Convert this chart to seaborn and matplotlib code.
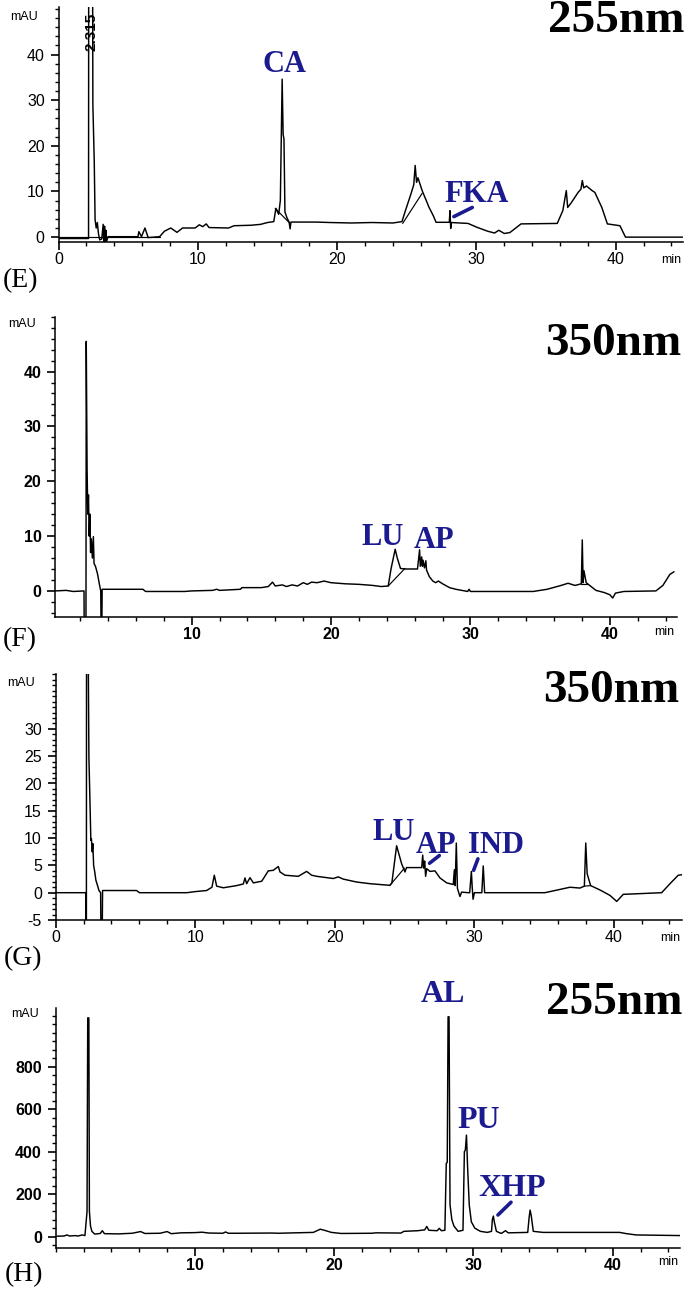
import matplotlib
matplotlib.use("Agg")
import matplotlib.pyplot as plt
from matplotlib.ticker import MultipleLocator, FixedLocator
import seaborn as sns

# ------------------------------------------------------------------ data
# (E) 255 nm chromatogram: (retention time [min], absorbance [mAU])
E_trace = [(0.0, -0.3), (2.15, -0.3), (2.16, 60), (2.44, 60), (2.46, 29), (2.56, 16.5),
           (2.62, 3.8), (2.7, 2.0), (2.78, 3.2), (2.86, 0.8), (2.95, -0.6), (3.1, -0.4),
           (3.2, 2.8), (3.25, -0.9), (3.3, 2.4), (3.35, -1.0), (3.4, 1.5), (3.45, -0.9),
           (3.55, 0.1), (5.7, 0.1), (5.76, 1.2), (5.95, 0.1), (6.2, 2.0), (6.43, -0.1),
           (7.25, 0.1), (7.6, 1.3), (8.05, 2.0), (8.5, 1.05), (8.9, 2.0), (9.8, 2.0),
           (10.1, 2.7), (10.35, 2.3), (10.6, 2.9), (10.8, 2.1), (12.2, 2.0), (12.6, 2.5),
           (13.8, 2.6), (14.5, 2.8), (15.0, 3.2), (15.45, 3.4), (15.6, 6.3), (15.8, 5.0),
           (15.92, 8.0), (16.05, 34.6), (16.12, 22.5), (16.18, 21.5), (16.25, 5.5),
           (16.4, 4.2), (16.55, 3.3), (16.62, 1.8), (16.68, 3.3), (18.5, 3.3), (19.5, 3.2),
           (21.0, 3.1), (22.5, 3.2), (24.0, 3.1), (24.65, 3.4), (24.9, 5.8), (25.3, 9.5),
           (25.5, 11.5), (25.6, 15.7), (25.7, 12.0), (25.8, 13.0), (26.1, 10.2), (26.6, 6.5),
           (26.9, 4.7), (27.1, 3.25), (28.05, 3.25), (28.1, 5.8), (28.15, 1.9), (28.2, 3.2),
           (29.4, 3.0), (30.0, 2.2), (30.8, 1.3), (31.3, 0.9), (31.6, 1.5), (32.0, 0.8),
           (32.4, 1.0), (33.2, 2.9), (35.8, 3.0), (36.2, 5.8), (36.45, 10.2), (36.55, 6.5),
           (36.8, 7.5), (37.3, 9.8), (37.5, 10.5), (37.6, 12.4), (37.7, 10.8), (37.9, 11.2),
           (38.3, 10.2), (38.5, 9.8), (39.0, 6.5), (39.4, 2.9), (40.3, 2.5), (40.7, 0.0),
           (44.8, 0.0)]
E_baselines = [[(0.0, 0.1), (7.25, 0.1)],
               [(15.55, 6.3), (16.55, 3.2)],
               [(24.7, 3.0), (26.1, 9.6)]]

# (F) 350 nm chromatogram
F_trace = [(0.22, 0.0), (1.0, 0.1), (1.5, -0.1), (2.28, 0.0), (2.29, -6), (2.42, -6),
           (2.44, 45.5), (2.5, 22.3), (2.55, 14), (2.6, 17.5), (2.65, 10), (2.7, 14),
           (2.75, 7), (2.8, 9.5), (2.88, 6), (2.95, 9.9), (3.0, 5), (3.1, 4.5), (3.24, 3.2),
           (3.4, 1.0), (3.48, 0.0), (3.5, -6), (3.56, -6), (3.58, 0.3), (6.5, 0.3),
           (6.7, -0.1), (9.5, -0.1), (10.0, 0.0), (11.5, 0.1), (11.8, 0.3), (12.0, 0.1),
           (13.5, 0.3), (13.6, 0.6), (15.0, 0.6), (15.5, 0.8), (15.8, 1.6), (16.0, 0.9),
           (16.5, 1.1), (16.8, 0.8), (17.2, 1.1), (17.6, 0.9), (18.0, 1.5), (18.3, 1.2),
           (18.6, 1.6), (19.0, 1.5), (19.5, 1.8), (20.0, 1.5), (21.0, 1.3), (22.0, 1.2),
           (23.0, 1.0), (23.6, 0.8), (24.1, 0.9), (24.3, 4.0), (24.6, 7.6), (24.75, 6.0),
           (24.98, 4.1), (25.3, 4.0), (26.2, 4.0), (26.35, 7.5), (26.4, 4.5), (26.5, 6.2),
           (26.55, 4.5), (26.6, 5.6), (26.7, 4.2), (26.8, 5.5), (26.85, 3.8), (27.05, 2.6),
           (27.3, 1.8), (27.5, 1.5), (27.7, 1.8), (28.0, 1.3), (28.5, 0.6), (28.95, 0.3),
           (29.8, -0.1), (29.9, 0.3), (30.0, -0.1), (34.5, -0.1), (35.5, 0.3), (36.5, 1.0),
           (37.0, 1.4), (37.5, 1.0), (37.95, 1.3), (38.02, 9.3), (38.08, 1.5), (38.14, 3.7),
           (38.3, 1.5), (38.6, 0.9), (39.0, 0.1), (39.6, -0.3), (40.0, -0.7), (40.2, -1.3),
           (40.4, -0.4), (41.0, -0.1), (43.3, 0.0), (43.8, 1.0), (44.3, 3.0), (44.6, 3.5)]
F_baselines = [[(24.1, 0.9), (25.3, 4.1)],
               [(37.95, 1.3), (38.35, 1.3)]]

# (G) 350 nm chromatogram
G_trace = [(0.0, 0.0), (2.15, 0.0), (2.16, -6), (2.2, -6), (2.21, 45), (2.33, 45),
           (2.38, 24.8), (2.45, 17.4), (2.52, 9.6), (2.56, 9.9), (2.62, 7.5), (2.66, 9.0),
           (2.72, 5.0), (2.8, 3.8), (2.88, 2.3), (3.0, 1.3), (3.1, 0.4), (3.22, 0.0),
           (3.24, -6), (3.34, -6), (3.36, 0.4), (5.8, 0.4), (6.0, 0.0), (9.4, 0.0),
           (10.0, 0.2), (10.82, 0.4), (11.2, 1.0), (11.37, 3.2), (11.54, 1.2), (12.02, 0.9),
           (12.97, 1.3), (13.45, 1.6), (13.57, 2.7), (13.69, 1.65), (13.93, 2.75),
           (14.17, 1.8), (14.77, 2.1), (15.24, 4.0), (15.6, 4.1), (15.96, 4.8), (16.08, 3.8),
           (16.44, 3.2), (17.39, 3.0), (17.99, 3.9), (18.35, 3.2), (18.71, 3.0), (19.9, 2.6),
           (20.26, 2.9), (20.6, 2.5), (21.58, 1.95), (22.53, 1.65), (23.96, 1.35),
           (24.1, 1.8), (24.44, 8.6), (24.8, 5.3), (25.04, 3.8), (25.15, 4.6), (26.24, 4.6),
           (26.31, 6.9), (26.38, 4.5), (26.45, 5.8), (26.52, 3.0), (26.6, 4.4), (26.83, 3.9),
           (27.19, 4.0), (27.55, 2.7), (28.03, 1.8), (28.5, 1.5), (28.58, 4.2), (28.64, 1.3),
           (28.72, 9.1), (28.8, 0.8), (28.98, -0.7), (29.1, 0.1), (29.6, 0.0), (29.68, 0.0),
           (29.8, 3.9), (29.86, 1.0), (29.92, -1.2), (30.02, 0.0), (30.55, 0.0), (30.65, 4.9),
           (30.75, 0.0), (35.07, 0.0), (36.87, 1.0), (37.58, 0.85), (37.9, 1.2), (38.0, 9.1),
           (38.1, 3.5), (38.2, 2.6), (38.35, 1.3), (39.02, 0.5), (39.74, -0.5), (40.22, -1.6),
           (40.69, -0.3), (43.44, 0.0), (44.04, 1.65), (44.63, 3.2), (44.9, 3.3)]
G_baselines = [[(23.96, 1.35), (25.0, 4.5)],
               [(37.9, 1.2), (38.35, 1.3)]]

# (H) 255 nm chromatogram
H_trace = [(0.0, 2), (0.6, 3), (0.8, 8), (1.0, 3), (1.4, 5), (1.6, 3), (1.9, 8), (2.1, 5),
           (2.25, 118), (2.3, 1030), (2.38, 1030), (2.42, 120), (2.5, 50), (2.6, 25),
           (2.8, 12), (3.2, 15), (3.35, 28), (3.5, 14), (4.5, 13), (5.5, 16), (6.1, 24),
           (6.4, 15), (7.5, 16), (8.0, 24), (8.3, 14), (9.0, 18), (10.0, 19), (10.5, 21),
           (11.0, 17), (12.0, 16), (12.2, 22), (12.4, 16), (13.0, 16), (15.5, 17), (16.0, 16),
           (17.2, 18), (18.5, 20), (19.0, 35), (19.3, 30), (19.8, 20), (20.5, 15), (22.7, 16),
           (23.0, 18), (24.8, 17), (25.0, 25), (26.0, 28), (26.5, 32), (26.65, 48), (26.8, 30),
           (27.4, 28), (27.55, 39), (27.7, 28), (27.95, 30), (28.05, 345), (28.12, 350),
           (28.18, 1035), (28.25, 1035), (28.32, 150), (28.45, 80), (28.6, 50), (28.9, 25),
           (29.25, 30), (29.35, 400), (29.42, 408), (29.5, 478), (29.58, 330), (29.7, 150),
           (29.85, 70), (30.1, 40), (30.5, 25), (31.0, 20), (31.3, 25), (31.36, 80),
           (31.43, 97), (31.5, 70), (31.65, 25), (32.0, 15), (32.3, 28), (32.5, 18),
           (33.9, 20), (34.0, 90), (34.07, 125), (34.15, 100), (34.3, 25), (35.0, 20),
           (40.5, 20), (41.0, 14), (41.7, 8), (45.0, 5)]

# compound labels: (text, retention time, mAU)
E_labels = [("CA", 16.2, 37.8), ("FKA", 30.0, 9.4)]
F_labels = [("LU", 23.7, 9.7), ("AP", 27.4, 9.25)]
G_labels = [("LU", 24.2, 11.0), ("AP", 27.3, 8.7), ("IND", 31.6, 8.7)]
H_labels = [("AL", 27.8, 1142), ("PU", 30.4, 549), ("XHP", 32.75, 229)]

# pointer strokes from label to peak
E_pointers = [[(28.38, 4.5), (29.7, 6.5)]]
F_pointers = []
G_pointers = [[(26.8, 5.4), (27.5, 6.8)], [(29.96, 4.1), (30.27, 6.2)]]
H_pointers = [[(31.76, 102), (32.7, 162)]]

panel_letters = ["(E)", "(F)", "(G)", "(H)"]
wavelengths = ["255nm", "350nm", "350nm", "255nm"]
E_ytick_labels = [0, 10, 20, 30, 40]
F_ytick_labels = [0, 10, 20, 30, 40]
G_ytick_labels = [-5, 0, 5, 10, 15, 20, 25, 30]
H_ytick_labels = [0, 200, 400, 600, 800]
E_xtick_labels = [0, 10, 20, 30, 40]
F_xtick_labels = [10, 20, 30, 40]
G_xtick_labels = [0, 10, 20, 30, 40]
H_xtick_labels = [10, 20, 30, 40]

# ------------------------------------------------------------------ style / layout
W, H = 685, 1291
sns.set_theme(style="ticks")
plt.rcParams.update({
    "font.family": ["Liberation Sans", "DejaVu Sans"],
    "xtick.bottom": True, "ytick.left": True,
    "xtick.color": "black", "ytick.color": "black",
    "xtick.direction": "out", "ytick.direction": "out",
})
NAVY = "#1b1b8f"

panels = [
    dict(trace=E_trace, bases=E_baselines, labels=E_labels, pointers=E_pointers,
         box=(58.6, 7.5, 682.6, 241.7), xlim=(0, 44.8), ylim=(-1.0, 50.3),
         xt=E_xtick_labels, yt=E_ytick_labels, ymin_step=2, lab_size=22, tick_w="normal",
         mau=(24.5, 17), mn=(671, 260), letter=(21, 281), nm=(684, 21)),
    dict(trace=F_trace, bases=F_baselines, labels=F_labels, pointers=F_pointers,
         box=(55.3, 316.7, 676.8, 616.7), xlim=(0.22, 44.8), ylim=(-4.7, 50.0),
         xt=F_xtick_labels, yt=F_ytick_labels, ymin_step=2, lab_size=22, tick_w="bold",
         mau=(22, 324), mn=(664, 632), letter=(20, 640), nm=(681, 344)),
    dict(trace=G_trace, bases=G_baselines, labels=G_labels, pointers=G_pointers,
         box=(55.7, 674.3, 682.0, 920.0), xlim=(0, 44.9), ylim=(-5, 40),
         xt=G_xtick_labels, yt=G_ytick_labels, ymin_step=1, lab_size=22, tick_w="normal",
         mau=(21.5, 683), mn=(670, 938), letter=(23, 959), nm=(679, 691)),
    dict(trace=H_trace, bases=[], labels=H_labels, pointers=H_pointers,
         box=(55.7, 1008.3, 679.5, 1247.7), xlim=(0, 44.8), ylim=(-52, 1075),
         xt=H_xtick_labels, yt=H_ytick_labels, ymin_step=40, lab_size=23, tick_w="bold",
         mau=(25, 1014), mn=(668, 1262), letter=(24, 1275), nm=(682, 1003)),
]

fig = plt.figure(figsize=(W / 100, H / 100), dpi=100)
fig.patch.set_facecolor("white")

def fx(px):
    return px / W

def fy(py):
    return 1 - py / H

for i, p in enumerate(panels):
    l, t, r, b = p["box"]
    ax = fig.add_axes([fx(l), fy(b), (r - l) / W, (b - t) / H])
    ax.set_facecolor("white")

    tt = [q[0] for q in p["trace"]]
    vv = [q[1] for q in p["trace"]]
    sns.lineplot(x=tt, y=vv, ax=ax, color="black", linewidth=1.05,
                 sort=False, estimator=None)
    for seg in p["bases"]:
        sns.lineplot(x=[q[0] for q in seg], y=[q[1] for q in seg], ax=ax,
                     color="black", linewidth=0.85, sort=False, estimator=None)
    for seg in p["pointers"]:
        sns.lineplot(x=[q[0] for q in seg], y=[q[1] for q in seg], ax=ax,
                     color=NAVY, linewidth=2.6, sort=False, estimator=None)
    for txt, xx, yy in p["labels"]:
        ax.text(xx, yy, txt, ha="center", va="center", color=NAVY,
                fontsize=p["lab_size"], fontweight="bold",
                family=["Liberation Serif", "DejaVu Serif"], clip_on=False)

    ax.set_xlim(*p["xlim"])
    ax.set_ylim(*p["ylim"])
    ax.set_xlabel("")
    ax.set_ylabel("")
    for s in ("top", "right"):
        ax.spines[s].set_visible(False)
    for s in ("left", "bottom"):
        ax.spines[s].set_visible(True)
        ax.spines[s].set_color("black")
        ax.spines[s].set_linewidth(1.1)

    ax.xaxis.set_major_locator(FixedLocator(p["xt"]))
    ax.xaxis.set_minor_locator(MultipleLocator(2))
    ax.yaxis.set_major_locator(FixedLocator(p["yt"]))
    ax.yaxis.set_minor_locator(MultipleLocator(p["ymin_step"]))
    ax.set_xticklabels([str(v) for v in p["xt"]])
    ax.set_yticklabels([str(v) for v in p["yt"]])
    ax.tick_params(axis="both", which="both", direction="out", colors="black",
                   bottom=True, left=True, top=False, right=False)
    ax.tick_params(axis="x", which="major", length=5.5, width=1.2, pad=2.0, labelsize=11.5)
    ax.tick_params(axis="y", which="major", length=6, width=1.2, pad=4.0, labelsize=11.5)
    ax.tick_params(axis="both", which="minor", length=3.2, width=1.0)
    for lab in ax.get_xticklabels() + ax.get_yticklabels():
        lab.set_fontweight(p["tick_w"])
        lab.set_color("black")

    if i == 0:
        ax.text(2.36, 44.9, "2.315", rotation=90, ha="center", va="center",
                fontsize=11, fontweight="bold", color="black", clip_on=False)

    fig.text(fx(p["mau"][0]), fy(p["mau"][1]), "mAU", ha="center", va="center",
             fontsize=9, color="black")
    fig.text(fx(p["mn"][0]), fy(p["mn"][1]), "min", ha="center", va="center",
             fontsize=9, color="black")
    fig.text(fx(p["letter"][0]), fy(p["letter"][1]), panel_letters[i],
             ha="center", va="center", fontsize=20,
             family=["Liberation Serif", "DejaVu Serif"], color="black")
    fig.text(fx(p["nm"][0]), fy(p["nm"][1]), wavelengths[i], ha="right", va="center",
             fontsize=34, fontweight="bold",
             family=["Liberation Serif", "DejaVu Serif"], color="black")

fig.savefig("out.png", dpi=100, facecolor="white")
